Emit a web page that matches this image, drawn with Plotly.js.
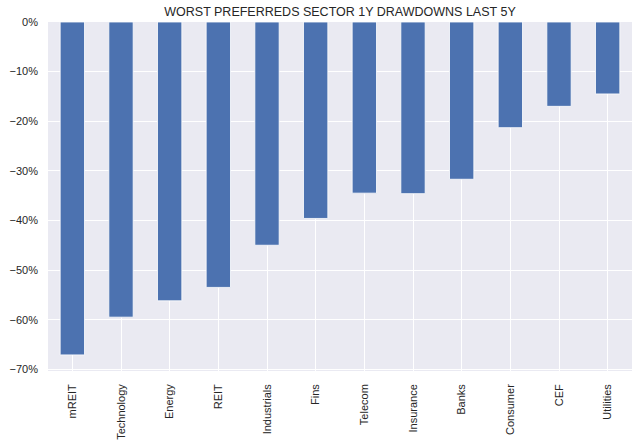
<!DOCTYPE html>
<html>
<head>
<meta charset="utf-8">
<script src="https://cdn.plot.ly/plotly-3.0.1.min.js"></script>
<style>
  html, body { margin: 0; padding: 0; background: #fff; }
  #plotly-div { width: 640px; height: 447px; }
</style>
</head>
<body>
<div id="plotly-div"></div>
<script>
// Sectors, worst to best 1Y drawdown
const sectors = ['mREIT', 'Technology', 'Energy', 'REIT', 'Industrials', 'Fins',
                 'Telecom', 'Insurance', 'Banks', 'Consumer', 'CEF', 'Utilities'];

// Drawdown in percent
const drawdowns = [-67.1, -59.5, -56.2, -53.5, -45.0, -39.6,
                   -34.5, -34.6, -31.7, -21.3, -17.0, -14.5];

// Y axis ticks
const yTickVals = [0, -10, -20, -30, -40, -50, -60, -70];
const yTickText = ['0%', '\u221210%', '\u221220%', '\u221230%', '\u221240%', '\u221250%', '\u221260%', '\u221270%'];

const textColor = '#262626';

const trace = {
    x: sectors,
    y: drawdowns,
    type: 'bar',
    width: 0.5,
    marker: {color: '#4C72B0', line: {color: '#ffffff', width: 0.8}},
    hoverinfo: 'x+y'
};

const layout = {
    width: 640,
    height: 447,
    margin: {l: 48, r: 8, t: 22, b: 76},
    paper_bgcolor: '#ffffff',
    plot_bgcolor: '#EAEAF2',
    font: {family: 'Liberation Sans, Arial, sans-serif', size: 11, color: textColor},
    title: {
        text: 'WORST PREFERREDS SECTOR 1Y DRAWDOWNS LAST 5Y',
        font: {size: 12.5, color: textColor},
        x: 0.5 + (48 - 8) / 2 / 640,
        xanchor: 'center',
        y: 1 - 12 / 447,
        yanchor: 'middle'
    },
    showlegend: false,
    bargap: 0.5,
    xaxis: {
        type: 'category',
        range: [-0.5, 11.5],
        tickangle: -90,
        showgrid: true,
        gridcolor: '#ffffff',
        gridwidth: 1,
        zeroline: false,
        showline: false,
        ticks: '',
        ticklabelstandoff: 10,
        tickfont: {size: 11, color: textColor}
    },
    yaxis: {
        range: [-70.35, 0],
        tickvals: yTickVals,
        ticktext: yTickText,
        showgrid: true,
        gridcolor: '#ffffff',
        gridwidth: 1,
        zeroline: false,
        showline: false,
        ticks: '',
        ticklabelstandoff: 9,
        tickfont: {size: 11, color: textColor}
    }
};

Plotly.newPlot('plotly-div', [trace], layout, {displayModeBar: false, staticPlot: true});
</script>
</body>
</html>
